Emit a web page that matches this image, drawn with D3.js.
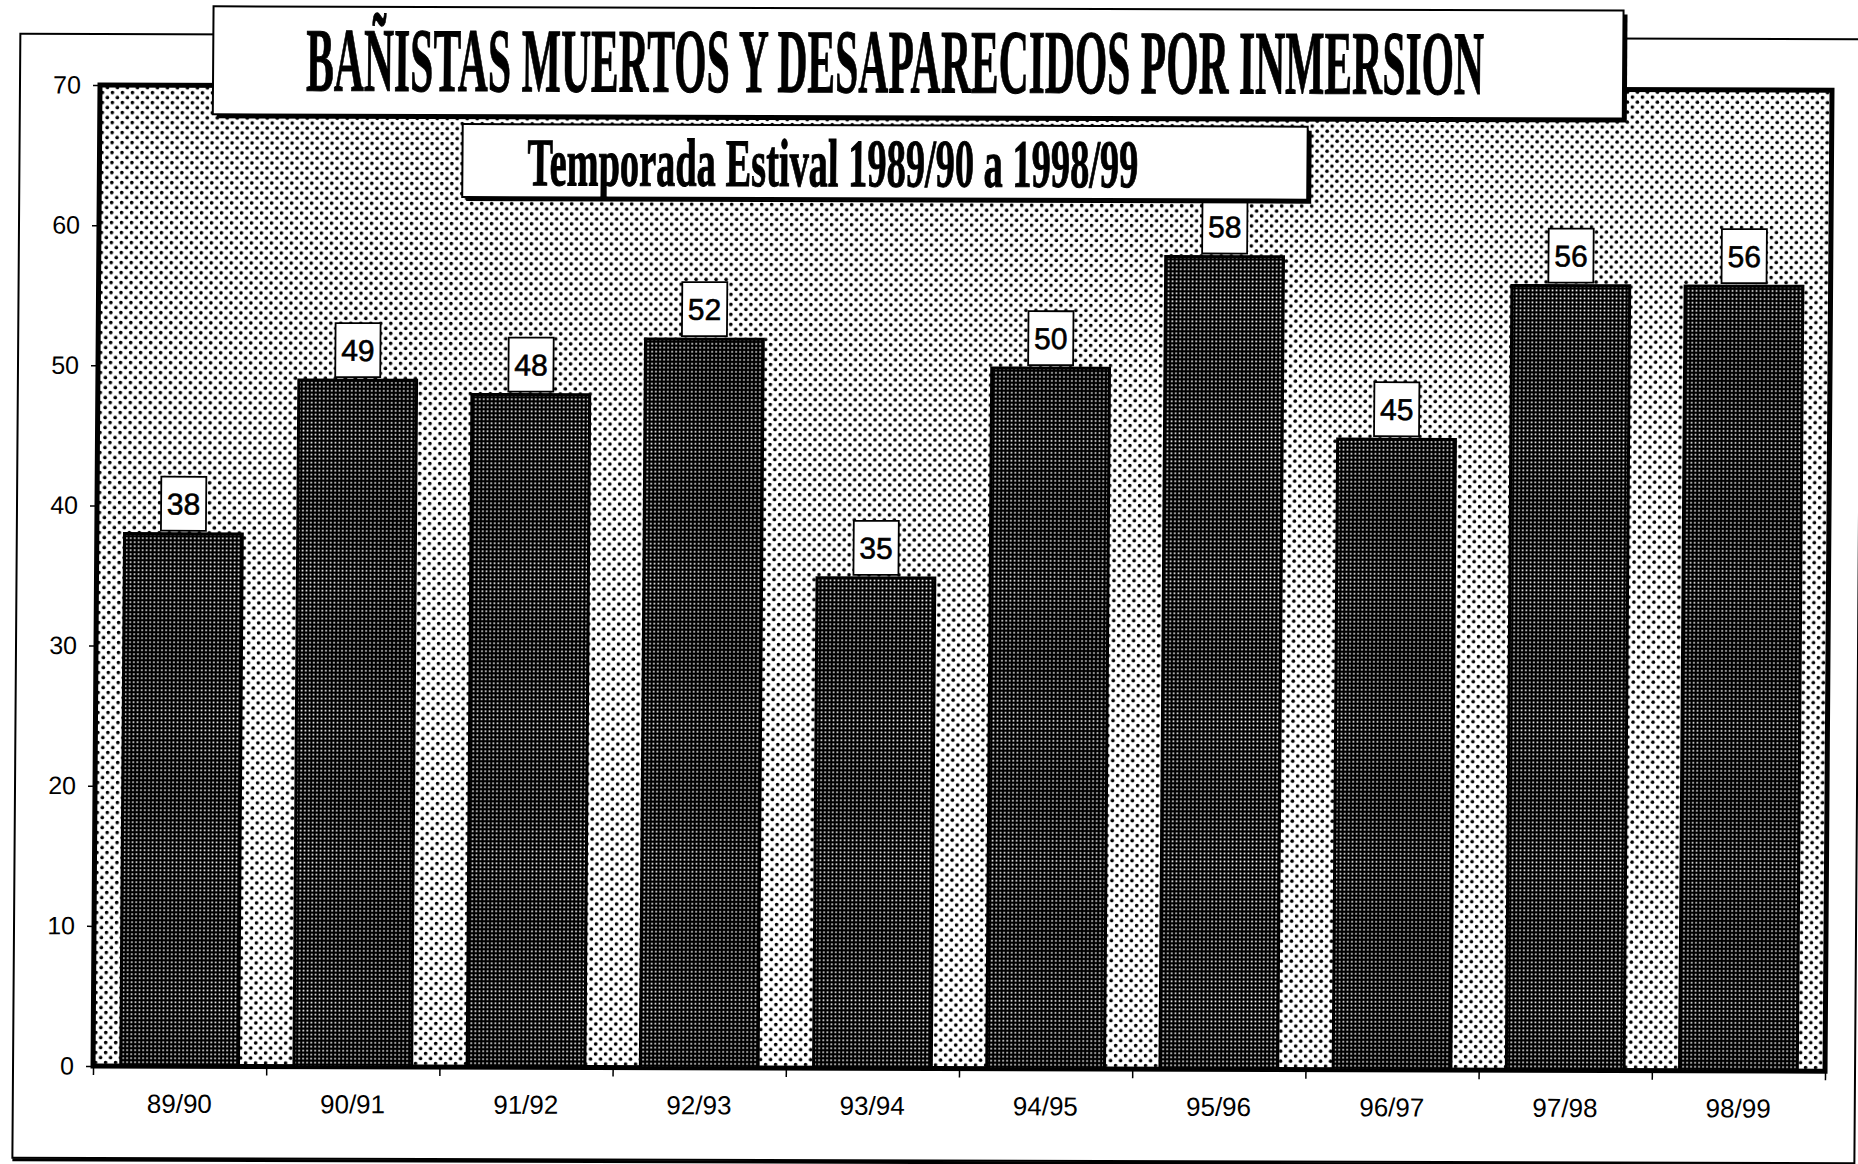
<!DOCTYPE html>
<html>
<head>
<meta charset="utf-8">
<script src="https://cdn.jsdelivr.net/npm/d3@7"></script>
<style>
  body { margin: 0; background: #fff; }
  text { font-family: "Liberation Sans", Arial, sans-serif; }
</style>
</head>
<body>
<svg id="chart" width="1858" height="1164"></svg>
<script>
// data
var seasons = ['89/90', '90/91', '91/92', '92/93', '93/94', '94/95', '95/96', '96/97', '97/98', '98/99'];
var deaths = [38, 49, 48, 52, 35, 50, 58, 45, 56, 56];
var yTicks = [0, 10, 20, 30, 40, 50, 60, 70];
var title = 'BAÑISTAS MUERTOS Y DESAPARECIDOS POR INMERSION';
var subtitle = 'Temporada Estival 1989/90 a 1998/99';

var plot = { left: 100, top: 85, right: 1832, bottom: 1066 };

var svg = d3.select('#chart');
var defs = svg.append('defs');

// light halftone for the plot background
var light = defs.append('pattern')
  .attr('id', 'lightDots')
  .attr('patternUnits', 'userSpaceOnUse')
  .attr('width', 10).attr('height', 10);
light.append('rect').attr('width', 10).attr('height', 10).attr('fill', '#fff');
light.append('circle').attr('cx', 2.5).attr('cy', 2.5).attr('r', 1.8).attr('fill', '#000');
light.append('circle').attr('cx', 7.5).attr('cy', 7.5).attr('r', 1.8).attr('fill', '#000');

// dark halftone for the bars
var dark = defs.append('pattern')
  .attr('id', 'darkDots')
  .attr('patternUnits', 'userSpaceOnUse')
  .attr('width', 4).attr('height', 4);
dark.append('rect').attr('width', 4).attr('height', 4).attr('fill', '#000');
dark.append('rect').attr('x', 1.2).attr('y', 1.2).attr('width', 1.6).attr('height', 1.6).attr('fill', '#fff');

// the scan is a bit sheared, so is the drawing
var g = svg.append('g')
  .attr('transform', 'matrix(1,0.003,-0.0071,1,0.6,-0.28)');

// outer frame
g.append('rect')
  .attr('x', 20).attr('y', 34)
  .attr('width', 1842).attr('height', 1124)
  .attr('fill', 'none').attr('stroke', '#000').attr('stroke-width', 2);
g.append('line')
  .attr('x1', 20).attr('x2', 1862).attr('y1', 1160).attr('y2', 1160)
  .attr('stroke', '#000').attr('stroke-width', 3);

var x = d3.scaleBand()
  .domain(seasons)
  .range([plot.left, plot.right])
  .paddingInner(0.32)
  .paddingOuter(0.16);

var xEdge = d3.scaleLinear()
  .domain([0, seasons.length])
  .range([plot.left, plot.right]);

var y = d3.scaleLinear()
  .domain([0, 70])
  .range([plot.bottom, plot.top]);

// plot area
g.append('rect')
  .attr('x', plot.left).attr('y', plot.top)
  .attr('width', plot.right - plot.left).attr('height', plot.bottom - plot.top)
  .attr('fill', 'url(#lightDots)')
  .attr('stroke', '#000').attr('stroke-width', 5);

// bars
g.selectAll('rect.bar')
  .data(deaths)
  .enter().append('rect')
  .attr('class', 'bar')
  .attr('x', function (d, i) { return x(seasons[i]); })
  .attr('y', function (d) { return y(d); })
  .attr('width', x.bandwidth())
  .attr('height', function (d) { return y(0) - y(d); })
  .attr('fill', 'url(#darkDots)')
  .attr('stroke', '#000').attr('stroke-width', 3);

// y axis
var yAxis = g.append('g')
  .attr('transform', 'translate(' + plot.left + ',0)')
  .call(d3.axisLeft(y).tickValues(yTicks).tickSize(7).tickPadding(12));
yAxis.select('.domain').remove();
yAxis.selectAll('line').attr('stroke', '#000').attr('stroke-width', 1.5);
yAxis.selectAll('text')
  .attr('fill', '#000')
  .style('font-size', '25px');

// x axis: ticks on category edges, labels centred
var xTicks = g.append('g')
  .attr('transform', 'translate(0,' + plot.bottom + ')')
  .call(d3.axisBottom(xEdge).tickValues(d3.range(seasons.length + 1)).tickFormat('').tickSize(9));
xTicks.select('.domain').remove();
xTicks.selectAll('line').attr('stroke', '#000').attr('stroke-width', 1.5);

var xLabels = g.append('g')
  .attr('transform', 'translate(0,' + plot.bottom + ')')
  .call(d3.axisBottom(x).tickSize(0).tickPadding(28));
xLabels.select('.domain').remove();
xLabels.selectAll('text')
  .attr('fill', '#000')
  .style('font-size', '26px');

// value boxes
var boxW = 45, boxH = 54;
var labels = g.selectAll('g.value')
  .data(deaths)
  .enter().append('g')
  .attr('class', 'value')
  .attr('transform', function (d, i) {
    return 'translate(' + (x(seasons[i]) + x.bandwidth() / 2) + ',' + (y(d) - 3 - boxH / 2) + ')';
  });
labels.append('rect')
  .attr('x', -boxW / 2).attr('y', -boxH / 2)
  .attr('width', boxW).attr('height', boxH)
  .attr('fill', '#fff').attr('stroke', '#000').attr('stroke-width', 1.8);
labels.append('text')
  .attr('text-anchor', 'middle')
  .attr('dy', '0.36em')
  .attr('stroke', '#000').attr('stroke-width', 0.6)
  .style('font-size', '30px')
  .text(function (d) { return d; });

// title boxes
function titleBox(x0, y0, w, h) {
  g.append('rect')
    .attr('x', x0 + 4).attr('y', y0 + 4)
    .attr('width', w).attr('height', h)
    .attr('fill', '#000');
  g.append('rect')
    .attr('x', x0).attr('y', y0)
    .attr('width', w).attr('height', h)
    .attr('fill', '#fff').attr('stroke', '#000').attr('stroke-width', 2);
}

// condensed serif: squeeze a bold serif to the width it has in the scan
function squeezedText(str, x0, baseline, width, size) {
  var holder = g.append('g');
  var t = holder.append('text')
    .attr('x', 0).attr('y', 0)
    .attr('stroke', '#000').attr('stroke-width', 1)
    .style('font-family', '"Liberation Serif", "Times New Roman", serif')
    .style('font-weight', 'bold')
    .style('font-size', size + 'px')
    .text(str);
  var natural = t.node().getComputedTextLength();
  holder.attr('transform', 'translate(' + x0 + ',' + baseline + ') scale(' + (width / natural) + ',1)');
}

titleBox(213, 6, 1410, 108);
squeezedText(title, 306, 90, 1178, 91);

titleBox(463, 123, 845, 73);
squeezedText(subtitle, 528, 184, 611, 68);
</script>
</body>
</html>
